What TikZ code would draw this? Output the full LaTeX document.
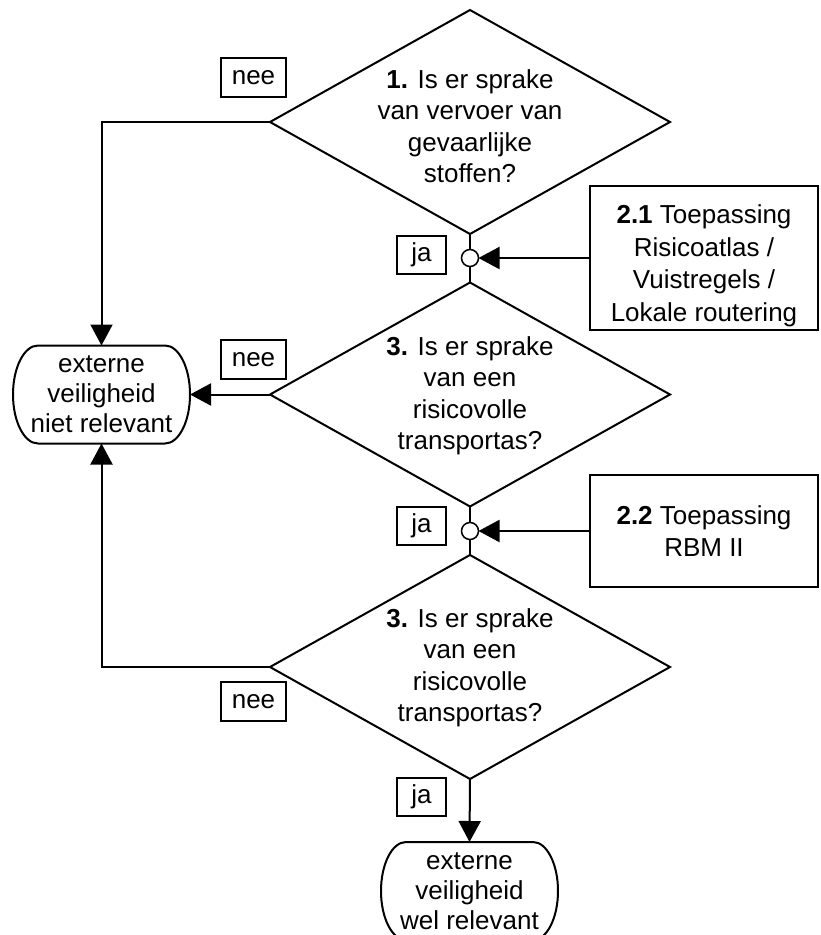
\documentclass[tikz,border=0pt]{standalone}
\usepackage{fontspec}
\setmainfont{Liberation Sans}
\usetikzlibrary{shapes.geometric,arrows.meta}
\begin{document}
\begin{tikzpicture}[x=1pt,y=-1pt,line width=2pt,
  decision/.style={diamond,draw,minimum width=400pt,minimum height=224pt,inner sep=0pt,outer sep=0pt},
  dtext/.style={align=center,inner sep=0pt,font=\fontsize{26}{31.5}\selectfont},
  procbox/.style={draw,minimum width=228pt,inner sep=0pt,outer sep=0pt},
  ptext/.style={align=center,inner sep=0pt,font=\fontsize{26}{32.5}\selectfont},
  terminal/.style={minimum width=177pt,minimum height=98pt,align=center,inner sep=0pt,outer sep=0pt,font=\fontsize{26}{30}\selectfont},
  neebox/.style={draw,minimum width=65pt,minimum height=39pt,inner sep=0pt,font=\fontsize{26}{30}\selectfont},
  jabox/.style={draw,minimum width=49pt,minimum height=38pt,inner sep=0pt,font=\fontsize{26}{30}\selectfont},
  junction/.style={circle,draw,fill=white,minimum size=17pt,inner sep=0pt,outer sep=0pt,line width=1.5pt},
  arr/.style={-{Triangle[length=21pt,width=22pt]}}]
\useasboundingbox (0,0) rectangle (820,935);
\fill[white] (0,0) rectangle (820,935);

% decisions
\node[decision] (d1) at (470,122) {};
\node[dtext] (d1t) at (470,126) {\textbf{1.} Is er sprake\\van vervoer van\\gevaarlijke\\stoffen?};
\node[decision] (d2) at (470,394.5) {};
\node[dtext] (d2t) at (470,396) {\textbf{3.} Is er sprake\\van een\\risicovolle\\transportas?};
\node[decision] (d3) at (470,667) {};
\node[dtext] (d3t) at (470,668) {\textbf{3.} Is er sprake\\van een\\risicovolle\\transportas?};

% process boxes
\node[procbox,minimum height=144pt] (b1) at (704,258) {};
\node[ptext] (b1t) at (704,266) {\textbf{2.1} Toepassing\\Risicoatlas /\\Vuistregels /\\Lokale routering};
\node[procbox,minimum height=112pt] (b2) at (704,531) {};
\node[ptext] (b2t) at (704,531) {\textbf{2.2} Toepassing\\RBM II};

% terminals
\node[terminal] (o1) at (101.5,394.5) {externe\\veiligheid\\niet relevant};
\draw ([xshift=25pt]o1.north west) -- ([xshift=-25pt]o1.north east)
  arc[start angle=90,end angle=-90,x radius=25pt,y radius=49pt]
  -- ([xshift=25pt]o1.south west)
  arc[start angle=270,end angle=90,x radius=25pt,y radius=49pt] -- cycle;
\node[terminal] (o2) at (469.5,891) {externe\\veiligheid\\wel relevant};
\draw ([xshift=25pt]o2.north west) -- ([xshift=-25pt]o2.north east)
  arc[start angle=90,end angle=-90,x radius=25pt,y radius=49pt]
  -- ([xshift=25pt]o2.south west)
  arc[start angle=270,end angle=90,x radius=25pt,y radius=49pt] -- cycle;

% junctions
\node[junction] (c1) at (470,258) {};
\node[junction] (c2) at (470,531) {};

% connectors
\draw (d1.south) -- (c1.north);
\draw (c1.south) -- (d2.north);
\draw (d2.south) -- (c2.north);
\draw (c2.south) -- (d3.north);
\draw[arr] (b1.west) -- (c1.east);
\draw[arr] (b2.west) -- (c2.east);
\draw[arr] (d1.west) -| (o1.north);
\draw[arr] (d2.west) -- (o1.east);
\draw[arr] (d3.west) -| (o1.south);
\draw[arr] (d3.south) -- (o2.north);

% labels
\node[neebox] (n1) at (253.5,77.5) {nee};
\node[neebox] (n2) at (253.5,359.5) {nee};
\node[neebox] (n3) at (253.5,701.5) {nee};
\node[jabox] (j1) at (421.5,255) {ja};
\node[jabox] (j2) at (421.5,525.5) {ja};
\node[jabox] (j3) at (421.5,797) {ja};
\end{tikzpicture}
\end{document}
